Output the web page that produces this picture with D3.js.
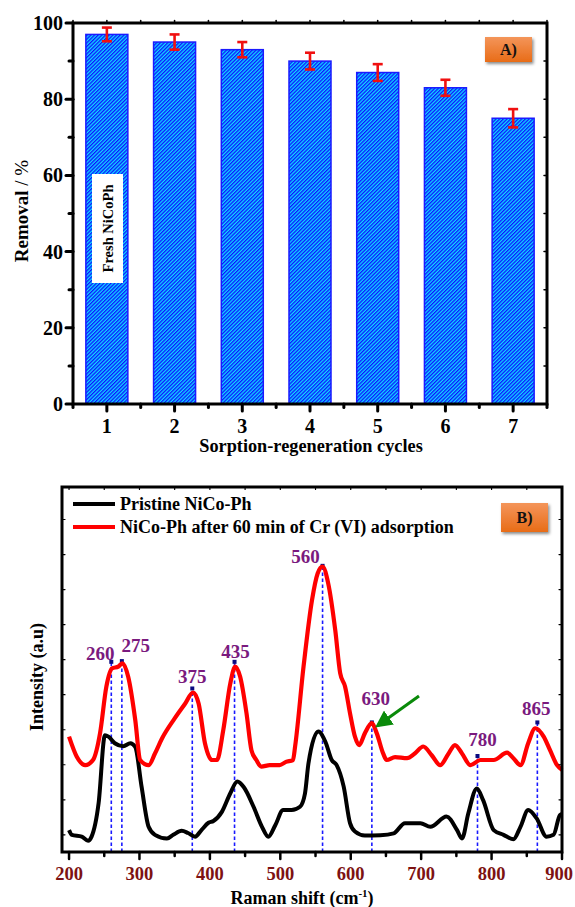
<!DOCTYPE html>
<meta charset="utf-8">
<style>
body { margin: 0; background: #fff; }
svg { display: block; font-family: "Liberation Serif", "Times New Roman", serif; font-weight: bold; }
</style>
<body>
<svg width="575" height="907"></svg>
<script src="https://d3js.org/d3.v7.min.js"></script>
<script>

// ---- panel A data
var cycles = [1, 2, 3, 4, 5, 6, 7];
var removal = [97, 95, 93, 90, 87, 83, 75];
var removalErr = [1.8, 2.0, 2.0, 2.2, 2.2, 2.1, 2.4];
var removalTicks = [0, 20, 40, 60, 80, 100];

// ---- panel B data (wavenumber, intensity a.u.)
var pristine = [
  [200, 6.0], [204, 4.7], [218, 4.2], [227, 3.1], [232, 4.2], [242, 13.4], [251, 32.0],
  [256, 31.6], [265, 29.8], [277, 29.0], [287, 29.8], [294, 28.8], [303, 17.9], [313, 6.9],
  [322, 4.7], [339, 3.7], [348, 4.7], [360, 5.8], [369, 5.2], [379, 4.2], [388, 6.0],
  [398, 8.0], [405, 8.5], [417, 11.0], [429, 16.1], [439, 19.3], [448, 17.8], [462, 12.4],
  [474, 6.9], [483, 4.2], [493, 7.4], [504, 11.5], [516, 11.5], [528, 12.4], [535, 16],
  [540, 24.3], [554, 33.0], [564, 30.2], [573, 25.2], [580, 23.8], [590, 17.9], [599, 7.9],
  [606, 5.6], [620, 4.5], [642, 4.6], [661, 5.1], [677, 7.9], [699, 7.9], [713, 6.9],
  [736, 9.7], [751, 6.0], [758, 3.7], [767, 10.6], [779, 17.4], [788, 14.2], [803, 6.0],
  [817, 4.7], [831, 3.5], [841, 6.9], [852, 11.5], [864, 9.2], [878, 4.2], [888, 4.7],
  [897, 10.1], [900, 10.4]
];
var afterCr = [
  [200, 31.6], [211, 26.1], [223, 23.8], [234, 25.2], [244, 32.5], [253, 45.3], [261, 50.3],
  [270, 50.8], [276, 51.7], [284, 48.0], [294, 36.2], [301, 25.2], [313, 23.8], [322, 27.0],
  [332, 31.1], [350, 36.6], [365, 40.7], [376, 43.7], [384, 40.7], [393, 29.8], [403, 25.2],
  [410, 25.2], [419, 33.4], [429, 46.2], [436, 50.8], [443, 48.0], [452, 38.0], [459, 27.9],
  [466, 25.2], [473, 23.4], [485, 23.8], [499, 23.8], [508, 24.7], [518, 25.2], [521, 28.9],
  [533, 50.8], [545, 69.0], [553, 76.3], [560, 78.2], [568, 73.6], [578, 60.8], [585, 49.0],
  [592, 45.3], [599, 38.0], [606, 31.6], [612, 29.3], [620, 32.5], [630, 35.3], [637, 32.5],
  [646, 27.0], [651, 25.2], [663, 26.0], [680, 25.7], [691, 27.0], [703, 28.9], [715, 26.5],
  [727, 23.8], [739, 27.0], [748, 29.3], [758, 27.0], [770, 23.8], [784, 25.2], [803, 25.2],
  [822, 27.2], [831, 25.7], [841, 23.8], [852, 29.8], [862, 33.9], [874, 31.6], [883, 27.9],
  [893, 23.8], [900, 22.5]
];
var peakPositions = [260, 275, 375, 435, 560, 630, 780, 865];
var peakTops = [52.1, 52.3, 44.8, 52.1, 78.4, 35.5, 26.3, 35.5];
var ramanTicks = [200, 300, 400, 500, 600, 700, 800, 900];
var legendLabels = ["Pristine NiCo-Ph", "NiCo-Ph after 60 min of Cr (VI) adsorption"];

// label offsets relative to each peak marker (layout only)
var peakLabelOffset = [[-11, -2], [14, -9], [0, -5], [1, -4], [-17, -3], [4, -17], [5, -10], [-1, -7]];

var svg = d3.select("svg");
var defs = svg.append("defs");

var hatch = defs.append("pattern")
    .attr("id", "hatch")
    .attr("patternUnits", "userSpaceOnUse")
    .attr("width", 2.6)
    .attr("height", 2.6)
    .attr("patternTransform", "rotate(45)");
hatch.append("rect").attr("width", 2.6).attr("height", 2.6).attr("fill", "#10dcff");
hatch.append("rect").attr("width", 1.3).attr("height", 2.6).attr("fill", "#1010ff");

var grad = defs.append("linearGradient")
    .attr("id", "orange")
    .attr("x1", 0).attr("y1", 0).attr("x2", 0).attr("y2", 1);
grad.append("stop").attr("offset", "0%").attr("stop-color", "#f4955a");
grad.append("stop").attr("offset", "100%").attr("stop-color", "#e86c17");

var shadow = defs.append("filter").attr("id", "shadow")
    .attr("x", "-30%").attr("y", "-30%").attr("width", "160%").attr("height", "170%");
shadow.append("feDropShadow")
    .attr("dx", 1.5).attr("dy", 2).attr("stdDeviation", 1.5)
    .attr("flood-color", "#000").attr("flood-opacity", 0.45);

defs.append("marker")
    .attr("id", "arrowhead")
    .attr("viewBox", "0 0 10 10")
    .attr("refX", 8).attr("refY", 5)
    .attr("markerUnits", "userSpaceOnUse")
    .attr("markerWidth", 17).attr("markerHeight", 17)
    .attr("orient", "auto")
  .append("path")
    .attr("d", "M0,0 L10,5 L0,10 Z")
    .attr("fill", "#0a8a0a");

function labelBox(x, y, w, h, text) {
  svg.append("rect")
      .attr("x", x).attr("y", y)
      .attr("width", w).attr("height", h)
      .attr("fill", "url(#orange)")
      .attr("filter", "url(#shadow)");
  svg.append("text")
      .attr("x", x + w / 2).attr("y", y + h / 2)
      .attr("dy", "0.35em")
      .attr("text-anchor", "middle")
      .attr("font-size", 16)
      .attr("fill", "#111")
      .text(text);
}

// =============== PANEL A ===============
var ax = d3.scaleLinear().domain([0.5, 7.5]).range([73, 547]),
    ay = d3.scaleLinear().domain([0, 100]).range([404, 23]);
var barW = 42;

svg.append("g")
  .selectAll("rect")
  .data(cycles)
  .enter().append("rect")
    .attr("x", function(d) { return ax(d) - barW / 2; })
    .attr("y", function(d, i) { return ay(removal[i]); })
    .attr("width", barW)
    .attr("height", function(d, i) { return ay(0) - ay(removal[i]); })
    .attr("fill", "url(#hatch)")
    .attr("stroke", "#1a1aff")
    .attr("stroke-width", 1.5);

var err = svg.append("g")
    .attr("stroke", "#f01010")
    .attr("stroke-width", 2.6)
  .selectAll("g")
  .data(cycles)
  .enter().append("g");
err.append("line")
    .attr("x1", function(d) { return ax(d); })
    .attr("x2", function(d) { return ax(d); })
    .attr("y1", function(d, i) { return ay(removal[i] + removalErr[i]); })
    .attr("y2", function(d, i) { return ay(removal[i] - removalErr[i]); });
err.append("line")
    .attr("x1", function(d) { return ax(d) - 5; })
    .attr("x2", function(d) { return ax(d) + 5; })
    .attr("y1", function(d, i) { return ay(removal[i] + removalErr[i]); })
    .attr("y2", function(d, i) { return ay(removal[i] + removalErr[i]); });
err.append("line")
    .attr("x1", function(d) { return ax(d) - 5; })
    .attr("x2", function(d) { return ax(d) + 5; })
    .attr("y1", function(d, i) { return ay(removal[i] - removalErr[i]); })
    .attr("y2", function(d, i) { return ay(removal[i] - removalErr[i]); });

// "Fresh NiCoPh" tag on first bar
svg.append("rect")
    .attr("x", 92).attr("y", 174)
    .attr("width", 31).attr("height", 109)
    .attr("fill", "#fff");
svg.append("text")
    .attr("transform", "translate(108,228.5) rotate(-90)")
    .attr("text-anchor", "middle")
    .attr("dy", "0.35em")
    .attr("font-size", 14.5)
    .text("Fresh NiCoPh");

// frame + axes A
var axisA = svg.append("g")
    .attr("stroke", "#000")
    .attr("stroke-linecap", "round");

axisA.append("rect")
    .attr("x", ax.range()[0]).attr("y", ay.range()[1])
    .attr("width", ax.range()[1] - ax.range()[0])
    .attr("height", ay.range()[0] - ay.range()[1])
    .attr("fill", "none")
    .attr("stroke-width", 3);

var yMinorA = d3.range(0, 101, 10);
axisA.selectAll(".ytick")
  .data(yMinorA)
  .enter().append("line")
    .attr("x1", ax.range()[0])
    .attr("x2", function(d) { return ax.range()[0] - (d % 20 === 0 ? 7 : 4); })
    .attr("y1", function(d) { return ay(d); })
    .attr("y2", function(d) { return ay(d); })
    .attr("stroke-width", 3);
axisA.selectAll(".ytickR")
  .data(yMinorA)
  .enter().append("line")
    .attr("x1", ax.range()[1])
    .attr("x2", function(d) { return ax.range()[1] - 3; })
    .attr("y1", function(d) { return ay(d); })
    .attr("y2", function(d) { return ay(d); })
    .attr("stroke-width", 1.5);

var xMinorA = d3.range(0.5, 7.51, 0.5);
axisA.selectAll(".xtick")
  .data(xMinorA)
  .enter().append("line")
    .attr("x1", function(d) { return ax(d); })
    .attr("x2", function(d) { return ax(d); })
    .attr("y1", ay.range()[0])
    .attr("y2", function(d) { return ay.range()[0] + (d % 1 === 0 ? 7 : 3.5); })
    .attr("stroke-width", 3);
axisA.selectAll(".xtickT")
  .data(xMinorA)
  .enter().append("line")
    .attr("x1", function(d) { return ax(d); })
    .attr("x2", function(d) { return ax(d); })
    .attr("y1", ay.range()[1])
    .attr("y2", function(d) { return ay.range()[1] - 2.5; })
    .attr("stroke-width", 1.5);

svg.append("g")
    .attr("font-size", 20)
    .attr("text-anchor", "end")
  .selectAll("text")
  .data(removalTicks)
  .enter().append("text")
    .attr("x", 63)
    .attr("y", function(d) { return ay(d); })
    .attr("dy", "0.35em")
    .text(function(d) { return d; });

svg.append("g")
    .attr("font-size", 20)
    .attr("text-anchor", "middle")
  .selectAll("text")
  .data(cycles)
  .enter().append("text")
    .attr("x", function(d) { return ax(d); })
    .attr("y", 433)
    .text(function(d) { return d; });

svg.append("text")
    .attr("x", 311).attr("y", 452)
    .attr("text-anchor", "middle")
    .attr("font-size", 18.3)
    .text("Sorption-regeneration cycles");

var yTitleA = svg.append("text")
    .attr("transform", "translate(28,211) rotate(-90)")
    .attr("text-anchor", "middle")
    .attr("font-size", 19);
yTitleA.append("tspan").text("Removal ");
yTitleA.append("tspan").attr("font-weight", "normal").text("/ %");

labelBox(485, 37, 47, 25, "A)");

// =============== PANEL B ===============
var bx = d3.scaleLinear().domain([190, 900]).range([62, 562]),
    by = d3.scaleLinear().domain([0, 100]).range([852, 487]);

var line = d3.line()
    .curve(d3.curveMonotoneX)
    .x(function(d) { return bx(d[0]); })
    .y(function(d) { return by(d[1]); });

// dotted peak markers
var peaks = svg.append("g");
peaks.selectAll("line")
  .data(peakPositions)
  .enter().append("line")
    .attr("x1", function(d) { return bx(d); })
    .attr("x2", function(d) { return bx(d); })
    .attr("y1", by(0))
    .attr("y2", function(d, i) { return by(peakTops[i]); })
    .attr("stroke", "#1a1aff")
    .attr("stroke-width", 1.6)
    .attr("stroke-dasharray", "3.5,2.5");

svg.append("path")
    .datum(pristine)
    .attr("d", line)
    .attr("fill", "none")
    .attr("stroke", "#000")
    .attr("stroke-width", 4)
    .attr("stroke-linejoin", "round");

svg.append("path")
    .datum(afterCr)
    .attr("d", line)
    .attr("fill", "none")
    .attr("stroke", "#ff0000")
    .attr("stroke-width", 4.2)
    .attr("stroke-linejoin", "round");

peaks.selectAll("rect")
  .data(peakPositions)
  .enter().append("rect")
    .attr("x", function(d) { return bx(d) - 2; })
    .attr("y", function(d, i) { return by(peakTops[i]) - 2; })
    .attr("width", 4)
    .attr("height", 4)
    .attr("fill", "#0a0a80");

svg.append("g")
    .attr("font-size", 19)
    .attr("fill", "#7a1a7e")
    .attr("text-anchor", "middle")
  .selectAll("text")
  .data(peakPositions)
  .enter().append("text")
    .attr("x", function(d, i) { return bx(d) + peakLabelOffset[i][0]; })
    .attr("y", function(d, i) { return by(peakTops[i]) + peakLabelOffset[i][1]; })
    .text(function(d) { return d; });

// green arrow pointing at the 630 band
svg.append("line")
    .attr("x1", 419).attr("y1", 696)
    .attr("x2", bx(630) + 6).attr("y2", by(peakTops[5]) + 3)
    .attr("stroke", "#0a8a0a")
    .attr("stroke-width", 3)
    .attr("marker-end", "url(#arrowhead)");

// frame + axes B
var axisB = svg.append("g")
    .attr("stroke", "#000")
    .attr("stroke-linecap", "round");

axisB.append("rect")
    .attr("x", bx.range()[0]).attr("y", by.range()[1])
    .attr("width", bx.range()[1] - bx.range()[0])
    .attr("height", by.range()[0] - by.range()[1])
    .attr("fill", "none")
    .attr("stroke-width", 3);

var xMinorB = d3.range(200, 901, 50);
axisB.selectAll(".xtick")
  .data(xMinorB)
  .enter().append("line")
    .attr("x1", function(d) { return bx(d); })
    .attr("x2", function(d) { return bx(d); })
    .attr("y1", by.range()[0])
    .attr("y2", function(d) { return by.range()[0] + (d % 100 === 0 ? 7 : 4); })
    .attr("stroke-width", 2.5);
axisB.selectAll(".xtickT")
  .data(xMinorB)
  .enter().append("line")
    .attr("x1", function(d) { return bx(d); })
    .attr("x2", function(d) { return bx(d); })
    .attr("y1", by.range()[1])
    .attr("y2", by.range()[1] + 2.5)
    .attr("stroke-width", 1.2);

var yMinorB = d3.range(4.7, 100, 9.6);
axisB.selectAll(".ytick")
  .data(yMinorB)
  .enter().append("line")
    .attr("x1", bx.range()[0])
    .attr("x2", bx.range()[0] + 3)
    .attr("y1", function(d) { return by(d); })
    .attr("y2", function(d) { return by(d); })
    .attr("stroke-width", 1.2);
axisB.selectAll(".ytickR")
  .data(yMinorB)
  .enter().append("line")
    .attr("x1", bx.range()[1])
    .attr("x2", bx.range()[1] - 3)
    .attr("y1", function(d) { return by(d); })
    .attr("y2", function(d) { return by(d); })
    .attr("stroke-width", 1.2);

svg.append("g")
    .attr("font-size", 18.5)
    .attr("fill", "#7d1212")
    .attr("text-anchor", "middle")
  .selectAll("text")
  .data(ramanTicks)
  .enter().append("text")
    .attr("x", function(d) { return Math.min(bx(d), 559); })
    .attr("y", 880)
    .text(function(d) { return d; });

var xTitleB = svg.append("text")
    .attr("x", 302).attr("y", 904)
    .attr("text-anchor", "middle")
    .attr("font-size", 18);
xTitleB.append("tspan").text("Raman shift (cm");
xTitleB.append("tspan").attr("dy", -7).attr("font-size", 11).text("-1");
xTitleB.append("tspan").attr("dy", 7).text(")");

svg.append("text")
    .attr("transform", "translate(43,677) rotate(-90)")
    .attr("text-anchor", "middle")
    .attr("font-size", 18)
    .text("Intensity (a.u)");

// legend
var legend = svg.append("g")
  .selectAll("g")
  .data(legendLabels)
  .enter().append("g")
    .attr("transform", function(d, i) { return "translate(0," + (504 + i * 23) + ")"; });
legend.append("line")
    .attr("x1", 73).attr("x2", 115)
    .attr("stroke", function(d, i) { return i === 0 ? "#000" : "#ff0000"; })
    .attr("stroke-width", 4.2);
legend.append("text")
    .attr("x", 120)
    .attr("dy", "0.35em")
    .attr("font-size", 18)
    .text(function(d) { return d; });

labelBox(501, 503, 47, 29, "B)");

</script>
</body>
